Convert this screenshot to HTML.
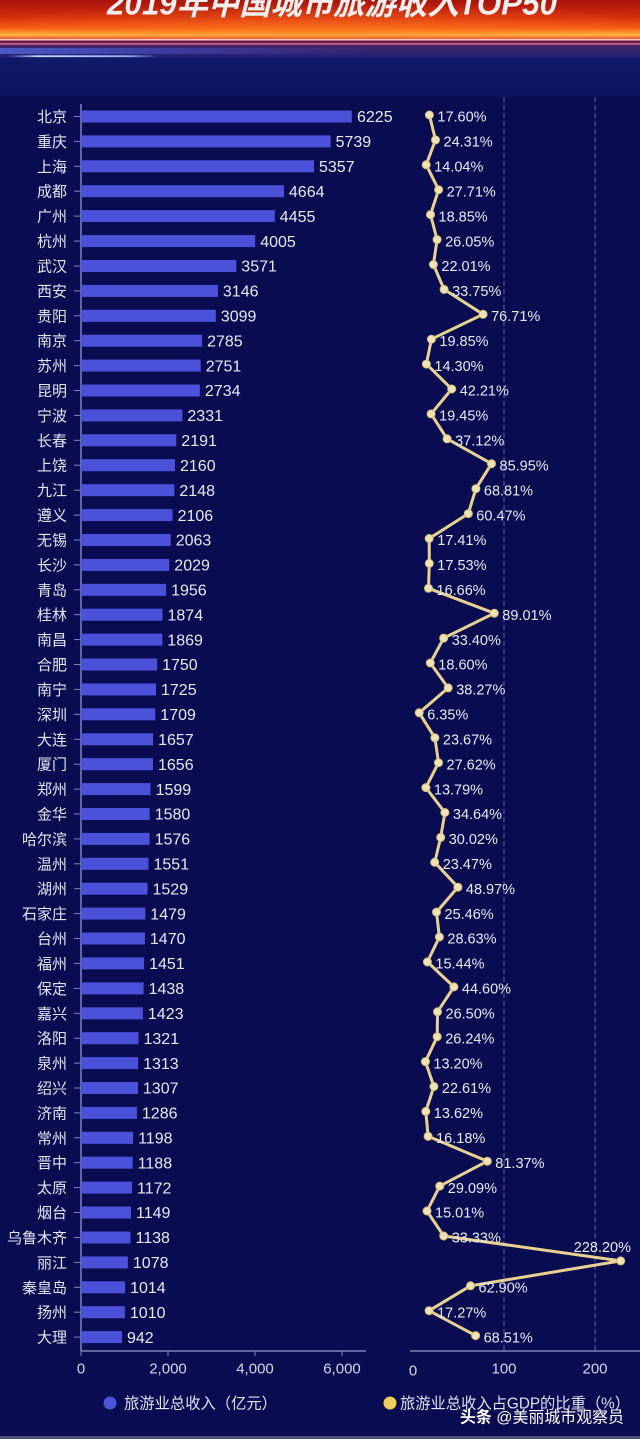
<!DOCTYPE html>
<html><head><meta charset="utf-8"><style>
html,body{margin:0;padding:0;background:#090c50;}
svg{display:block;}
text{font-family:"Liberation Sans","Noto Sans CJK SC",sans-serif;}
.c{font-size:15px;fill:#e2e5f4;text-anchor:end;}
.v{font-size:16px;fill:#e6e8f6;}
.p{font-size:14.5px;fill:#e6e8f6;}
.ax{font-size:15px;fill:#d2d6ec;text-anchor:middle;}
.t{stroke:#7d84bb;stroke-width:1;}
.b{fill:#4b51d9;}
.d{fill:#efe3b8;stroke:#d6bd78;stroke-width:1;}
</style></head><body>
<svg width="640" height="1439" viewBox="0 0 640 1439" xmlns="http://www.w3.org/2000/svg">
<defs>
<linearGradient id="hg" x1="0" y1="0" x2="0" y2="1">
<stop offset="0" stop-color="#a8140c"/>
<stop offset="0.45" stop-color="#d52e0e"/>
<stop offset="0.7" stop-color="#f45a14"/>
<stop offset="0.83" stop-color="#ffa030"/>
<stop offset="0.88" stop-color="#ffc048"/>
<stop offset="0.94" stop-color="#f06a30"/>
<stop offset="1" stop-color="#e85a5a"/>
</linearGradient>
<radialGradient id="hr" cx="0.5" cy="0.7" r="0.6">
<stop offset="0" stop-color="#ff7a20" stop-opacity="0.55"/>
<stop offset="1" stop-color="#ff7a20" stop-opacity="0"/>
</radialGradient>
<linearGradient id="pg" x1="0" y1="0" x2="0" y2="1">
<stop offset="0" stop-color="#4a2466"/>
<stop offset="1" stop-color="#1c2078"/>
</linearGradient>
<linearGradient id="bl" x1="0" y1="0" x2="1" y2="0">
<stop offset="0" stop-color="#5060d0" stop-opacity="0.9"/>
<stop offset="0.5" stop-color="#4050c0" stop-opacity="0.5"/>
<stop offset="1" stop-color="#4050c0" stop-opacity="0"/>
</linearGradient>
<linearGradient id="st" x1="0" y1="0" x2="1" y2="0">
<stop offset="0" stop-color="#b0d0ff" stop-opacity="0"/>
<stop offset="0.2" stop-color="#c0dcff" stop-opacity="1"/>
<stop offset="0.8" stop-color="#a0c0ff" stop-opacity="0.9"/>
<stop offset="1" stop-color="#a0c0ff" stop-opacity="0"/>
</linearGradient>
<linearGradient id="ng" x1="0" y1="0" x2="0" y2="1">
<stop offset="0" stop-color="#101a6a"/>
<stop offset="1" stop-color="#0a1360"/>
</linearGradient>
</defs>

<!-- background -->
<rect x="0" y="0" width="640" height="1439" fill="#090c50"/>
<rect x="0" y="0" width="640" height="40" fill="url(#hg)"/>
<rect x="0" y="0" width="640" height="40" fill="url(#hr)"/>
<rect x="0" y="39" width="640" height="1.6" fill="#ffc8c0"/>
<rect x="0" y="40.6" width="640" height="2.6" fill="#6a1c46"/>
<rect x="0" y="43.2" width="640" height="1.6" fill="#e07898"/>
<rect x="0" y="44.8" width="640" height="13.2" fill="url(#pg)"/>
<rect x="0" y="48" width="380" height="6" fill="url(#bl)"/>
<rect x="0" y="58" width="640" height="39" fill="url(#ng)"/>
<rect x="8" y="55.3" width="150" height="1.8" fill="url(#st)"/>
<text x="107" y="14.5" font-size="32" font-style="italic" font-weight="bold" fill="#f4eeee" textLength="450" lengthAdjust="spacingAndGlyphs">2019年中国城市旅游收入TOP50</text>

<!-- gridlines -->
<line x1="504" y1="97" x2="504" y2="1351" stroke="#5f66a8" stroke-width="1" stroke-dasharray="5,3"/>
<line x1="595" y1="97" x2="595" y2="1351" stroke="#5f66a8" stroke-width="1" stroke-dasharray="5,3"/>

<!-- axes -->
<line x1="81" y1="104" x2="81" y2="1351" stroke="#7d84bb" stroke-width="1.5"/>
<line x1="81" y1="1351" x2="366" y2="1351" stroke="#7d84bb" stroke-width="1.5"/>
<line x1="410" y1="1351" x2="640" y2="1351" stroke="#7d84bb" stroke-width="1.5"/>
<line class="t" x1="81" y1="1351" x2="81" y2="1356"/>
<line class="t" x1="168" y1="1351" x2="168" y2="1356"/>
<line class="t" x1="255" y1="1351" x2="255" y2="1356"/>
<line class="t" x1="342" y1="1351" x2="342" y2="1356"/>
<text class="ax" x="81" y="1373.5">0</text>
<text class="ax" x="168" y="1373.5">2,000</text>
<text class="ax" x="255" y="1373.5">4,000</text>
<text class="ax" x="342" y="1373.5">6,000</text>
<text class="ax" x="413" y="1375.5">0</text>
<text class="ax" x="504" y="1373.5">100</text>
<text class="ax" x="595" y="1373.5">200</text>

<!-- bars -->
<g transform="translate(0,116.5)"><text class="c" x="67" y="5.5">北京</text><line class="t" x1="74" x2="81" y1="0" y2="0"/><rect class="b" x="81" y="-6" width="270.8" height="12"/><text class="v" x="357" y="5.7">6225</text></g>
<g transform="translate(0,141.4)"><text class="c" x="67" y="5.5">重庆</text><line class="t" x1="74" x2="81" y1="0" y2="0"/><rect class="b" x="81" y="-6" width="249.6" height="12"/><text class="v" x="335.6" y="5.7">5739</text></g>
<g transform="translate(0,166.3)"><text class="c" x="67" y="5.5">上海</text><line class="t" x1="74" x2="81" y1="0" y2="0"/><rect class="b" x="81" y="-6" width="233" height="12"/><text class="v" x="319" y="5.7">5357</text></g>
<g transform="translate(0,191.2)"><text class="c" x="67" y="5.5">成都</text><line class="t" x1="74" x2="81" y1="0" y2="0"/><rect class="b" x="81" y="-6" width="202.9" height="12"/><text class="v" x="288.9" y="5.7">4664</text></g>
<g transform="translate(0,216.1)"><text class="c" x="67" y="5.5">广州</text><line class="t" x1="74" x2="81" y1="0" y2="0"/><rect class="b" x="81" y="-6" width="193.8" height="12"/><text class="v" x="279.8" y="5.7">4455</text></g>
<g transform="translate(0,241.1)"><text class="c" x="67" y="5.5">杭州</text><line class="t" x1="74" x2="81" y1="0" y2="0"/><rect class="b" x="81" y="-6" width="174.2" height="12"/><text class="v" x="260.2" y="5.7">4005</text></g>
<g transform="translate(0,266)"><text class="c" x="67" y="5.5">武汉</text><line class="t" x1="74" x2="81" y1="0" y2="0"/><rect class="b" x="81" y="-6" width="155.3" height="12"/><text class="v" x="241.3" y="5.7">3571</text></g>
<g transform="translate(0,290.9)"><text class="c" x="67" y="5.5">西安</text><line class="t" x1="74" x2="81" y1="0" y2="0"/><rect class="b" x="81" y="-6" width="136.9" height="12"/><text class="v" x="222.9" y="5.7">3146</text></g>
<g transform="translate(0,315.8)"><text class="c" x="67" y="5.5">贵阳</text><line class="t" x1="74" x2="81" y1="0" y2="0"/><rect class="b" x="81" y="-6" width="134.8" height="12"/><text class="v" x="220.8" y="5.7">3099</text></g>
<g transform="translate(0,340.7)"><text class="c" x="67" y="5.5">南京</text><line class="t" x1="74" x2="81" y1="0" y2="0"/><rect class="b" x="81" y="-6" width="121.1" height="12"/><text class="v" x="207.1" y="5.7">2785</text></g>
<g transform="translate(0,365.6)"><text class="c" x="67" y="5.5">苏州</text><line class="t" x1="74" x2="81" y1="0" y2="0"/><rect class="b" x="81" y="-6" width="119.7" height="12"/><text class="v" x="205.7" y="5.7">2751</text></g>
<g transform="translate(0,390.5)"><text class="c" x="67" y="5.5">昆明</text><line class="t" x1="74" x2="81" y1="0" y2="0"/><rect class="b" x="81" y="-6" width="118.9" height="12"/><text class="v" x="204.9" y="5.7">2734</text></g>
<g transform="translate(0,415.4)"><text class="c" x="67" y="5.5">宁波</text><line class="t" x1="74" x2="81" y1="0" y2="0"/><rect class="b" x="81" y="-6" width="101.4" height="12"/><text class="v" x="187.4" y="5.7">2331</text></g>
<g transform="translate(0,440.3)"><text class="c" x="67" y="5.5">长春</text><line class="t" x1="74" x2="81" y1="0" y2="0"/><rect class="b" x="81" y="-6" width="95.3" height="12"/><text class="v" x="181.3" y="5.7">2191</text></g>
<g transform="translate(0,465.2)"><text class="c" x="67" y="5.5">上饶</text><line class="t" x1="74" x2="81" y1="0" y2="0"/><rect class="b" x="81" y="-6" width="94" height="12"/><text class="v" x="180" y="5.7">2160</text></g>
<g transform="translate(0,490.2)"><text class="c" x="67" y="5.5">九江</text><line class="t" x1="74" x2="81" y1="0" y2="0"/><rect class="b" x="81" y="-6" width="93.4" height="12"/><text class="v" x="179.4" y="5.7">2148</text></g>
<g transform="translate(0,515.1)"><text class="c" x="67" y="5.5">遵义</text><line class="t" x1="74" x2="81" y1="0" y2="0"/><rect class="b" x="81" y="-6" width="91.6" height="12"/><text class="v" x="177.6" y="5.7">2106</text></g>
<g transform="translate(0,540)"><text class="c" x="67" y="5.5">无锡</text><line class="t" x1="74" x2="81" y1="0" y2="0"/><rect class="b" x="81" y="-6" width="89.7" height="12"/><text class="v" x="175.7" y="5.7">2063</text></g>
<g transform="translate(0,564.9)"><text class="c" x="67" y="5.5">长沙</text><line class="t" x1="74" x2="81" y1="0" y2="0"/><rect class="b" x="81" y="-6" width="88.3" height="12"/><text class="v" x="174.3" y="5.7">2029</text></g>
<g transform="translate(0,589.8)"><text class="c" x="67" y="5.5">青岛</text><line class="t" x1="74" x2="81" y1="0" y2="0"/><rect class="b" x="81" y="-6" width="85.1" height="12"/><text class="v" x="171.1" y="5.7">1956</text></g>
<g transform="translate(0,614.7)"><text class="c" x="67" y="5.5">桂林</text><line class="t" x1="74" x2="81" y1="0" y2="0"/><rect class="b" x="81" y="-6" width="81.5" height="12"/><text class="v" x="167.5" y="5.7">1874</text></g>
<g transform="translate(0,639.6)"><text class="c" x="67" y="5.5">南昌</text><line class="t" x1="74" x2="81" y1="0" y2="0"/><rect class="b" x="81" y="-6" width="81.3" height="12"/><text class="v" x="167.3" y="5.7">1869</text></g>
<g transform="translate(0,664.5)"><text class="c" x="67" y="5.5">合肥</text><line class="t" x1="74" x2="81" y1="0" y2="0"/><rect class="b" x="81" y="-6" width="76.1" height="12"/><text class="v" x="162.1" y="5.7">1750</text></g>
<g transform="translate(0,689.4)"><text class="c" x="67" y="5.5">南宁</text><line class="t" x1="74" x2="81" y1="0" y2="0"/><rect class="b" x="81" y="-6" width="75" height="12"/><text class="v" x="161" y="5.7">1725</text></g>
<g transform="translate(0,714.3)"><text class="c" x="67" y="5.5">深圳</text><line class="t" x1="74" x2="81" y1="0" y2="0"/><rect class="b" x="81" y="-6" width="74.3" height="12"/><text class="v" x="160.3" y="5.7">1709</text></g>
<g transform="translate(0,739.3)"><text class="c" x="67" y="5.5">大连</text><line class="t" x1="74" x2="81" y1="0" y2="0"/><rect class="b" x="81" y="-6" width="72.1" height="12"/><text class="v" x="158.1" y="5.7">1657</text></g>
<g transform="translate(0,764.2)"><text class="c" x="67" y="5.5">厦门</text><line class="t" x1="74" x2="81" y1="0" y2="0"/><rect class="b" x="81" y="-6" width="72" height="12"/><text class="v" x="158" y="5.7">1656</text></g>
<g transform="translate(0,789.1)"><text class="c" x="67" y="5.5">郑州</text><line class="t" x1="74" x2="81" y1="0" y2="0"/><rect class="b" x="81" y="-6" width="69.6" height="12"/><text class="v" x="155.6" y="5.7">1599</text></g>
<g transform="translate(0,814)"><text class="c" x="67" y="5.5">金华</text><line class="t" x1="74" x2="81" y1="0" y2="0"/><rect class="b" x="81" y="-6" width="68.7" height="12"/><text class="v" x="154.7" y="5.7">1580</text></g>
<g transform="translate(0,838.9)"><text class="c" x="67" y="5.5">哈尔滨</text><line class="t" x1="74" x2="81" y1="0" y2="0"/><rect class="b" x="81" y="-6" width="68.6" height="12"/><text class="v" x="154.6" y="5.7">1576</text></g>
<g transform="translate(0,863.8)"><text class="c" x="67" y="5.5">温州</text><line class="t" x1="74" x2="81" y1="0" y2="0"/><rect class="b" x="81" y="-6" width="67.5" height="12"/><text class="v" x="153.5" y="5.7">1551</text></g>
<g transform="translate(0,888.7)"><text class="c" x="67" y="5.5">湖州</text><line class="t" x1="74" x2="81" y1="0" y2="0"/><rect class="b" x="81" y="-6" width="66.5" height="12"/><text class="v" x="152.5" y="5.7">1529</text></g>
<g transform="translate(0,913.6)"><text class="c" x="67" y="5.5">石家庄</text><line class="t" x1="74" x2="81" y1="0" y2="0"/><rect class="b" x="81" y="-6" width="64.3" height="12"/><text class="v" x="150.3" y="5.7">1479</text></g>
<g transform="translate(0,938.5)"><text class="c" x="67" y="5.5">台州</text><line class="t" x1="74" x2="81" y1="0" y2="0"/><rect class="b" x="81" y="-6" width="63.9" height="12"/><text class="v" x="149.9" y="5.7">1470</text></g>
<g transform="translate(0,963.4)"><text class="c" x="67" y="5.5">福州</text><line class="t" x1="74" x2="81" y1="0" y2="0"/><rect class="b" x="81" y="-6" width="63.1" height="12"/><text class="v" x="149.1" y="5.7">1451</text></g>
<g transform="translate(0,988.4)"><text class="c" x="67" y="5.5">保定</text><line class="t" x1="74" x2="81" y1="0" y2="0"/><rect class="b" x="81" y="-6" width="62.6" height="12"/><text class="v" x="148.6" y="5.7">1438</text></g>
<g transform="translate(0,1013.3)"><text class="c" x="67" y="5.5">嘉兴</text><line class="t" x1="74" x2="81" y1="0" y2="0"/><rect class="b" x="81" y="-6" width="61.9" height="12"/><text class="v" x="147.9" y="5.7">1423</text></g>
<g transform="translate(0,1038.2)"><text class="c" x="67" y="5.5">洛阳</text><line class="t" x1="74" x2="81" y1="0" y2="0"/><rect class="b" x="81" y="-6" width="57.5" height="12"/><text class="v" x="143.5" y="5.7">1321</text></g>
<g transform="translate(0,1063.1)"><text class="c" x="67" y="5.5">泉州</text><line class="t" x1="74" x2="81" y1="0" y2="0"/><rect class="b" x="81" y="-6" width="57.1" height="12"/><text class="v" x="143.1" y="5.7">1313</text></g>
<g transform="translate(0,1088)"><text class="c" x="67" y="5.5">绍兴</text><line class="t" x1="74" x2="81" y1="0" y2="0"/><rect class="b" x="81" y="-6" width="56.9" height="12"/><text class="v" x="142.9" y="5.7">1307</text></g>
<g transform="translate(0,1112.9)"><text class="c" x="67" y="5.5">济南</text><line class="t" x1="74" x2="81" y1="0" y2="0"/><rect class="b" x="81" y="-6" width="55.9" height="12"/><text class="v" x="141.9" y="5.7">1286</text></g>
<g transform="translate(0,1137.8)"><text class="c" x="67" y="5.5">常州</text><line class="t" x1="74" x2="81" y1="0" y2="0"/><rect class="b" x="81" y="-6" width="52.1" height="12"/><text class="v" x="138.1" y="5.7">1198</text></g>
<g transform="translate(0,1162.7)"><text class="c" x="67" y="5.5">晋中</text><line class="t" x1="74" x2="81" y1="0" y2="0"/><rect class="b" x="81" y="-6" width="51.7" height="12"/><text class="v" x="137.7" y="5.7">1188</text></g>
<g transform="translate(0,1187.6)"><text class="c" x="67" y="5.5">太原</text><line class="t" x1="74" x2="81" y1="0" y2="0"/><rect class="b" x="81" y="-6" width="51" height="12"/><text class="v" x="137" y="5.7">1172</text></g>
<g transform="translate(0,1212.5)"><text class="c" x="67" y="5.5">烟台</text><line class="t" x1="74" x2="81" y1="0" y2="0"/><rect class="b" x="81" y="-6" width="50" height="12"/><text class="v" x="136" y="5.7">1149</text></g>
<g transform="translate(0,1237.5)"><text class="c" x="67" y="5.5">乌鲁木齐</text><line class="t" x1="74" x2="81" y1="0" y2="0"/><rect class="b" x="81" y="-6" width="49.5" height="12"/><text class="v" x="135.5" y="5.7">1138</text></g>
<g transform="translate(0,1262.4)"><text class="c" x="67" y="5.5">丽江</text><line class="t" x1="74" x2="81" y1="0" y2="0"/><rect class="b" x="81" y="-6" width="46.9" height="12"/><text class="v" x="132.9" y="5.7">1078</text></g>
<g transform="translate(0,1287.3)"><text class="c" x="67" y="5.5">秦皇岛</text><line class="t" x1="74" x2="81" y1="0" y2="0"/><rect class="b" x="81" y="-6" width="44.1" height="12"/><text class="v" x="130.1" y="5.7">1014</text></g>
<g transform="translate(0,1312.2)"><text class="c" x="67" y="5.5">扬州</text><line class="t" x1="74" x2="81" y1="0" y2="0"/><rect class="b" x="81" y="-6" width="43.9" height="12"/><text class="v" x="129.9" y="5.7">1010</text></g>
<g transform="translate(0,1337.1)"><text class="c" x="67" y="5.5">大理</text><line class="t" x1="74" x2="81" y1="0" y2="0"/><rect class="b" x="81" y="-6" width="41" height="12"/><text class="v" x="127" y="5.7">942</text></g>

<!-- line series -->
<polyline fill="none" stroke="#e8d292" stroke-width="3" stroke-linejoin="round" points="429.4,115 435.5,139.9 426.2,164.8 438.6,189.7 430.5,214.6 437.1,239.6 433.4,264.5 444.1,289.4 483.1,314.3 431.4,339.2 426.4,364.1 451.7,389 431.1,413.9 447.1,438.8 491.5,463.7 475.9,488.7 468.3,513.6 429.2,538.5 429.3,563.4 428.5,588.3 494.3,613.2 443.7,638.1 430.3,663 448.2,687.9 419.2,712.8 434.9,737.8 438.5,762.7 425.9,787.6 444.9,812.5 440.7,837.4 434.7,862.3 457.9,887.2 436.5,912.1 439.4,937 427.4,961.9 453.9,986.9 437.5,1011.8 437.2,1036.7 425.4,1061.6 433.9,1086.5 425.8,1111.4 428.1,1136.3 487.3,1161.2 439.8,1186.1 427,1211 443.7,1236 620.7,1260.9 470.5,1285.8 429.1,1310.7 475.6,1335.6"/>

<g transform="translate(0,116.5)"><circle class="d" cx="429.4" cy="-1.5" r="4"/><text class="p" x="437.4" y="5.2">17.60%</text></g>
<g transform="translate(0,141.4)"><circle class="d" cx="435.5" cy="-1.5" r="4"/><text class="p" x="443.5" y="5.2">24.31%</text></g>
<g transform="translate(0,166.3)"><circle class="d" cx="426.2" cy="-1.5" r="4"/><text class="p" x="434.2" y="5.2">14.04%</text></g>
<g transform="translate(0,191.2)"><circle class="d" cx="438.6" cy="-1.5" r="4"/><text class="p" x="446.6" y="5.2">27.71%</text></g>
<g transform="translate(0,216.1)"><circle class="d" cx="430.5" cy="-1.5" r="4"/><text class="p" x="438.5" y="5.2">18.85%</text></g>
<g transform="translate(0,241.1)"><circle class="d" cx="437.1" cy="-1.5" r="4"/><text class="p" x="445.1" y="5.2">26.05%</text></g>
<g transform="translate(0,266)"><circle class="d" cx="433.4" cy="-1.5" r="4"/><text class="p" x="441.4" y="5.2">22.01%</text></g>
<g transform="translate(0,290.9)"><circle class="d" cx="444.1" cy="-1.5" r="4"/><text class="p" x="452.1" y="5.2">33.75%</text></g>
<g transform="translate(0,315.8)"><circle class="d" cx="483.1" cy="-1.5" r="4"/><text class="p" x="491.1" y="5.2">76.71%</text></g>
<g transform="translate(0,340.7)"><circle class="d" cx="431.4" cy="-1.5" r="4"/><text class="p" x="439.4" y="5.2">19.85%</text></g>
<g transform="translate(0,365.6)"><circle class="d" cx="426.4" cy="-1.5" r="4"/><text class="p" x="434.4" y="5.2">14.30%</text></g>
<g transform="translate(0,390.5)"><circle class="d" cx="451.7" cy="-1.5" r="4"/><text class="p" x="459.7" y="5.2">42.21%</text></g>
<g transform="translate(0,415.4)"><circle class="d" cx="431.1" cy="-1.5" r="4"/><text class="p" x="439.1" y="5.2">19.45%</text></g>
<g transform="translate(0,440.3)"><circle class="d" cx="447.1" cy="-1.5" r="4"/><text class="p" x="455.1" y="5.2">37.12%</text></g>
<g transform="translate(0,465.2)"><circle class="d" cx="491.5" cy="-1.5" r="4"/><text class="p" x="499.5" y="5.2">85.95%</text></g>
<g transform="translate(0,490.2)"><circle class="d" cx="475.9" cy="-1.5" r="4"/><text class="p" x="483.9" y="5.2">68.81%</text></g>
<g transform="translate(0,515.1)"><circle class="d" cx="468.3" cy="-1.5" r="4"/><text class="p" x="476.3" y="5.2">60.47%</text></g>
<g transform="translate(0,540)"><circle class="d" cx="429.2" cy="-1.5" r="4"/><text class="p" x="437.2" y="5.2">17.41%</text></g>
<g transform="translate(0,564.9)"><circle class="d" cx="429.3" cy="-1.5" r="4"/><text class="p" x="437.3" y="5.2">17.53%</text></g>
<g transform="translate(0,589.8)"><circle class="d" cx="428.5" cy="-1.5" r="4"/><text class="p" x="436.5" y="5.2">16.66%</text></g>
<g transform="translate(0,614.7)"><circle class="d" cx="494.3" cy="-1.5" r="4"/><text class="p" x="502.3" y="5.2">89.01%</text></g>
<g transform="translate(0,639.6)"><circle class="d" cx="443.7" cy="-1.5" r="4"/><text class="p" x="451.7" y="5.2">33.40%</text></g>
<g transform="translate(0,664.5)"><circle class="d" cx="430.3" cy="-1.5" r="4"/><text class="p" x="438.3" y="5.2">18.60%</text></g>
<g transform="translate(0,689.4)"><circle class="d" cx="448.2" cy="-1.5" r="4"/><text class="p" x="456.2" y="5.2">38.27%</text></g>
<g transform="translate(0,714.3)"><circle class="d" cx="419.2" cy="-1.5" r="4"/><text class="p" x="427.2" y="5.2">6.35%</text></g>
<g transform="translate(0,739.3)"><circle class="d" cx="434.9" cy="-1.5" r="4"/><text class="p" x="442.9" y="5.2">23.67%</text></g>
<g transform="translate(0,764.2)"><circle class="d" cx="438.5" cy="-1.5" r="4"/><text class="p" x="446.5" y="5.2">27.62%</text></g>
<g transform="translate(0,789.1)"><circle class="d" cx="425.9" cy="-1.5" r="4"/><text class="p" x="433.9" y="5.2">13.79%</text></g>
<g transform="translate(0,814)"><circle class="d" cx="444.9" cy="-1.5" r="4"/><text class="p" x="452.9" y="5.2">34.64%</text></g>
<g transform="translate(0,838.9)"><circle class="d" cx="440.7" cy="-1.5" r="4"/><text class="p" x="448.7" y="5.2">30.02%</text></g>
<g transform="translate(0,863.8)"><circle class="d" cx="434.7" cy="-1.5" r="4"/><text class="p" x="442.7" y="5.2">23.47%</text></g>
<g transform="translate(0,888.7)"><circle class="d" cx="457.9" cy="-1.5" r="4"/><text class="p" x="465.9" y="5.2">48.97%</text></g>
<g transform="translate(0,913.6)"><circle class="d" cx="436.5" cy="-1.5" r="4"/><text class="p" x="444.5" y="5.2">25.46%</text></g>
<g transform="translate(0,938.5)"><circle class="d" cx="439.4" cy="-1.5" r="4"/><text class="p" x="447.4" y="5.2">28.63%</text></g>
<g transform="translate(0,963.4)"><circle class="d" cx="427.4" cy="-1.5" r="4"/><text class="p" x="435.4" y="5.2">15.44%</text></g>
<g transform="translate(0,988.4)"><circle class="d" cx="453.9" cy="-1.5" r="4"/><text class="p" x="461.9" y="5.2">44.60%</text></g>
<g transform="translate(0,1013.3)"><circle class="d" cx="437.5" cy="-1.5" r="4"/><text class="p" x="445.5" y="5.2">26.50%</text></g>
<g transform="translate(0,1038.2)"><circle class="d" cx="437.2" cy="-1.5" r="4"/><text class="p" x="445.2" y="5.2">26.24%</text></g>
<g transform="translate(0,1063.1)"><circle class="d" cx="425.4" cy="-1.5" r="4"/><text class="p" x="433.4" y="5.2">13.20%</text></g>
<g transform="translate(0,1088)"><circle class="d" cx="433.9" cy="-1.5" r="4"/><text class="p" x="441.9" y="5.2">22.61%</text></g>
<g transform="translate(0,1112.9)"><circle class="d" cx="425.8" cy="-1.5" r="4"/><text class="p" x="433.8" y="5.2">13.62%</text></g>
<g transform="translate(0,1137.8)"><circle class="d" cx="428.1" cy="-1.5" r="4"/><text class="p" x="436.1" y="5.2">16.18%</text></g>
<g transform="translate(0,1162.7)"><circle class="d" cx="487.3" cy="-1.5" r="4"/><text class="p" x="495.3" y="5.2">81.37%</text></g>
<g transform="translate(0,1187.6)"><circle class="d" cx="439.8" cy="-1.5" r="4"/><text class="p" x="447.8" y="5.2">29.09%</text></g>
<g transform="translate(0,1212.5)"><circle class="d" cx="427" cy="-1.5" r="4"/><text class="p" x="435" y="5.2">15.01%</text></g>
<g transform="translate(0,1237.5)"><circle class="d" cx="443.7" cy="-1.5" r="4"/><text class="p" x="451.7" y="5.2">33.33%</text></g>
<g transform="translate(0,1262.4)"><circle class="d" cx="620.7" cy="-1.5" r="4"/><text class="p" x="631" y="-10.2" text-anchor="end">228.20%</text></g>
<g transform="translate(0,1287.3)"><circle class="d" cx="470.5" cy="-1.5" r="4"/><text class="p" x="478.5" y="5.2">62.90%</text></g>
<g transform="translate(0,1312.2)"><circle class="d" cx="429.1" cy="-1.5" r="4"/><text class="p" x="437.1" y="5.2">17.27%</text></g>
<g transform="translate(0,1337.1)"><circle class="d" cx="475.6" cy="-1.5" r="4"/><text class="p" x="483.6" y="5.2">68.51%</text></g>

<!-- legend -->
<circle cx="110" cy="1403" r="6.5" fill="#4a55d8"/>
<text x="124" y="1408.6" font-size="15.5" fill="#dde0f0" textLength="153" lengthAdjust="spacingAndGlyphs">旅游业总收入（亿元）</text>
<circle cx="390" cy="1403" r="6.5" fill="#f0cf5a"/>
<text x="400" y="1408.6" font-size="15.5" fill="#dde0f0" textLength="230" lengthAdjust="spacingAndGlyphs">旅游业总收入占GDP的比重（%）</text>

<!-- watermark -->
<text x="460" y="1422.5" font-size="16" fill="#ffffff" textLength="164" lengthAdjust="spacingAndGlyphs"><tspan font-weight="bold">头条</tspan> @美丽城市观察员</text>

<rect x="0" y="1436" width="640" height="3" fill="#4a5078"/>
</svg>
</body></html>
